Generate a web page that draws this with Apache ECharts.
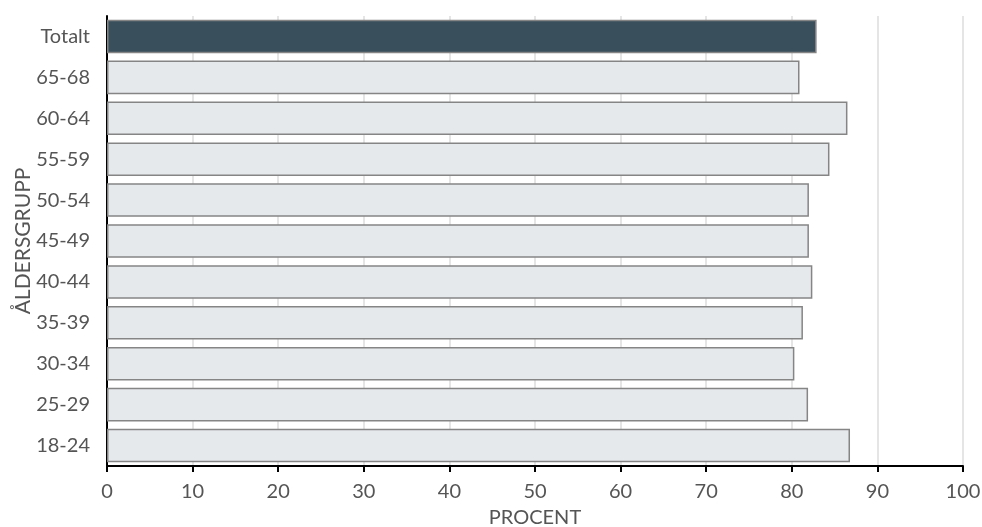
<!DOCTYPE html>
<html><head><meta charset="utf-8">
<script src="https://cdn.jsdelivr.net/npm/echarts@6/dist/echarts.min.js"></script>
<style>html,body{margin:0;padding:0;background:#fff}#c{width:982px;height:527px}</style>
</head><body><div id="c"></div>
<script>
const categories = ["18-24","25-29","30-34","35-39","40-44","45-49","50-54","55-59","60-64","65-68","Totalt"];
const values = [86.8,81.9,80.3,81.3,82.4,82.0,82.0,84.4,86.5,80.9,82.9];
const xTicks = [0,10,20,30,40,50,60,70,80,90,100];
const highlight = "Totalt";

const chart = echarts.init(document.getElementById('c'));
chart.setOption({
  animation:false,
  grid:{left:107,right:19,top:16,bottom:61,containLabel:false,outerBoundsMode:'none'},
  xAxis:{type:'value',min:xTicks[0],max:xTicks[xTicks.length-1],interval:10,
    name:'PROCENT',nameLocation:'middle',nameGap:42,nameMoveOverlap:false,
    nameTextStyle:{fontFamily:'Lato',fontSize:20,color:'#555'},
    axisLine:{show:true,lineStyle:{color:'#000',width:2}},
    axisTick:{show:true,length:6,lineStyle:{color:'#000',width:2}},
    axisLabel:{fontFamily:'Lato',fontSize:20,color:'#555',margin:16},
    splitLine:{show:true,lineStyle:{color:'#dcdcdc',width:1.5}}},
  yAxis:{type:'category',data:categories,
    name:'ÅLDERSGRUPP',nameLocation:'middle',nameGap:73,nameRotate:90,nameMoveOverlap:false,
    nameTextStyle:{fontFamily:'Lato',fontSize:21,color:'#555'},
    axisLine:{show:true,lineStyle:{color:'#000',width:2}},
    axisTick:{show:false},
    axisLabel:{fontFamily:'Lato',fontSize:20,color:'#555',margin:17},
    splitLine:{show:false}},
  series:[{type:'bar',barCategoryGap:'18%',
    data:values.map((v,i)=>({value:v,itemStyle:{color:categories[i]===highlight?'#3a4f5c':'#e6e9ec'}})),
    itemStyle:{borderColor:'#858585',borderWidth:1.5}}]
});
</script></body></html>
